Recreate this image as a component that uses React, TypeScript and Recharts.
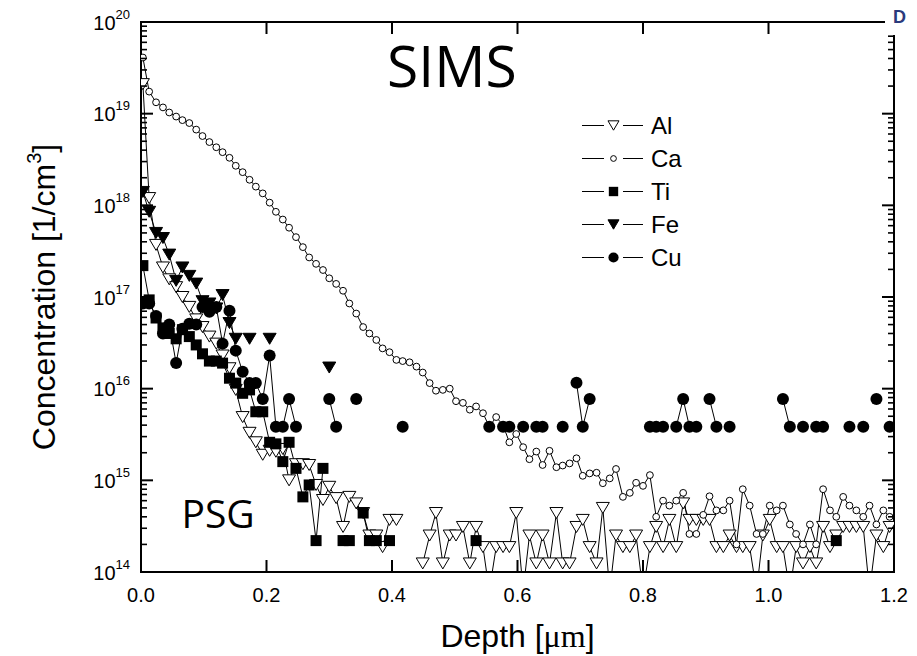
import React from 'react';
import { ComposedChart, Line, XAxis, YAxis, Legend } from 'recharts';

const W = 917;
const H = 656;
const FONT = '"Liberation Sans", Arial, Helvetica, sans-serif';
const _ = null;

// depth grid [µm]
const DEPTH = [
  0.003, 0.013, 0.024, 0.035, 0.045, 0.056, 0.066, 0.077, 0.088, 0.098,
  0.109, 0.120, 0.130, 0.141, 0.151, 0.162, 0.173, 0.183, 0.194, 0.205,
  0.215, 0.226, 0.236, 0.247, 0.258, 0.268, 0.279, 0.290, 0.300, 0.311,
  0.322, 0.332, 0.343, 0.354, 0.364, 0.375, 0.385, 0.396, 0.407, 0.417,
  0.428, 0.439, 0.449, 0.460, 0.470, 0.481, 0.492, 0.502, 0.513, 0.524,
  0.534, 0.545, 0.555, 0.566, 0.577, 0.587, 0.598, 0.609, 0.619, 0.630,
  0.640, 0.651, 0.662, 0.672, 0.683, 0.694, 0.704, 0.715, 0.726, 0.736,
  0.747, 0.757, 0.768, 0.779, 0.789, 0.800, 0.811, 0.821, 0.832, 0.842,
  0.853, 0.864, 0.874, 0.885, 0.896, 0.906, 0.917, 0.928, 0.938, 0.949,
  0.959, 0.970, 0.981, 0.991, 1.002, 1.013, 1.023, 1.034, 1.044, 1.055,
  1.066, 1.076, 1.087, 1.098, 1.108, 1.119, 1.129, 1.140, 1.151, 1.161,
  1.172, 1.183, 1.193,
];

const AL = [
  2.1e19, 1.2e18, 3.7e17, 2.1e17, 1.56e17, 1.28e17, 1.0e17, 7.8e16, 5.7e16, 4.7e16,
  3.7e16, 3.1e16, 2.3e16, 1.67e16, 9.7e15, 4.9e15, 3.3e15, 2.6e15, 1.9e15, 2.1e15,
  2.05e15, 2.2e15, 1.0e15, 1.5e15, 1.5e15, 1.47e15, 8.9e14, 6.1e14, 8.5e14, 6.4e14,
  3.1e14, 6.6e14, 5.6e14, 4.4e14, 2.5e14, 2.5e14, 1.87e14, 3.7e14, 3.7e14, _,
  _, _, 1.24e14, 2.5e14, 4.4e14, 1.24e14, 2.5e14, 2.5e14, 3.1e14, 1.24e14,
  3.1e14, 1.87e14, 6.2e13, 1.87e14, 1.87e14, 1.87e14, 4.4e14, 6.2e13, 2.5e14, 1.24e14,
  2.5e14, 1.24e14, 4.4e14, 1.24e14, 1.24e14, 3.1e14, 3.7e14, 1.87e14, 1.24e14, 5.0e14,
  6.2e13, 2.5e14, 1.87e14, 1.87e14, 2.5e14, 6.2e13, 1.87e14, 3.1e14, 1.87e14, 3.7e14,
  1.87e14, 5.6e14, 3.7e14, 3.7e14, 3.7e14, 3.7e14, 1.87e14, 1.87e14, 2.5e14, 1.87e14,
  1.87e14, 1.87e14, 6.2e13, 2.5e14, 3.7e14, 1.87e14, 1.87e14, 6.2e13, 1.87e14, 1.24e14,
  1.87e14, 1.24e14, 3.1e14, 1.87e14, 2.5e14, 3.1e14, 3.1e14, 3.1e14, 3.1e14, 6.2e13,
  2.5e14, 1.87e14, 3.1e14,
];

const CA = [
  4.1e19, 1.74e19, 1.33e19, 1.17e19, 1.03e19, 9.3e18, 8.5e18, 7.9e18, 6.7e18, 5.7e18,
  4.9e18, 4.3e18, 3.8e18, 3.3e18, 2.7e18, 2.3e18, 1.9e18, 1.6e18, 1.35e18, 1.07e18,
  8.5e17, 7.0e17, 5.7e17, 4.5e17, 3.5e17, 2.7e17, 2.3e17, 1.97e17, 1.6e17, 1.39e17,
  1.17e17, 8.5e16, 6.6e16, 4.7e16, 4.0e16, 3.4e16, 2.75e16, 2.5e16, 2.06e16, 2.0e16,
  1.94e16, 1.74e16, 1.5e16, 1.15e16, 9.5e15, 9.7e15, 1.0e16, 7.3e15, 7.0e15, 5.9e15,
  6.4e15, 5.4e15, 3.85e15, 4.9e15, 4.0e15, 2.6e15, 3.2e15, 2.3e15, 1.7e15, 2.06e15,
  1.47e15, 2.1e15, 1.39e15, 1.45e15, 1.53e15, 1.74e15, 1.12e15, 1.19e15, 1.21e15, 9.3e14,
  1.05e15, 1.33e15, 6.6e14, 7.3e14, 9.4e14, 8.7e14, 1.14e15, 4.0e14, 6.0e14, 5.3e14,
  6.0e14, 7.3e14, 2.6e14, 2.6e14, 4.2e14, 6.7e14, 4.7e14, 4.7e14, 6.0e14, 2.0e14,
  8.0e14, 5.3e14, 2.6e14, 2.6e14, 5.3e14, 4.7e14, 5.3e14, 3.3e14, 2.6e14, 2.0e14,
  3.3e14, 2.0e14, 8.0e14, 4.7e14, 4.0e14, 6.6e14, 5.3e14, 4.7e14, 4.0e14, 5.3e14,
  3.3e14, 4.7e14, 4.0e14,
];

const TI = [
  2.2e17, 9.3e16, 5.9e16, 4.6e16, 4.0e16, 3.5e16, 4.4e16, 3.7e16, 3.0e16, 2.4e16,
  2.0e16, 2.0e16, 1.9e16, 1.3e16, 1.15e16, 8.9e15, 9.7e15, 5.6e15, 5.6e15, 2.6e15,
  2.5e15, 1.6e15, 2.6e15, 1.35e15, 6.6e14, 8.9e14, 2.2e14, 1.35e15, _, _,
  2.2e14, 2.2e14, _, 4.4e14, 2.2e14, 2.2e14, _, 2.2e14, _, _,
  _, _, _, _, _, _, _, _, _, _,
  2.2e14, _, _, _, _, _, _, _, _, _,
  _, _, _, _, _, _, _, _, _, _,
  _, _, _, _, _, _, _, _, _, _,
  _, _, _, _, _, _, _, _, _, _,
  _, _, _, _, _, _, _, _, _, _,
  _, _, _, _, 2.2e14, _, _, _, _, _,
  _, _, _,
];

const FE = [
  1.4e18, 8.5e17, 5.0e17, 4.4e17, 2.9e17, 1.5e17, 2.1e17, 1.7e17, 1.4e17, 9.0e16,
  8.5e16, 7.5e16, 1.05e17, 5.2e16, 3.5e16, _, 3.5e16, _, _, 3.5e16,
  _, _, _, _, _, _, _, _, 1.7e16, _,
  _, _, _, _, _, _, _, _, _, _,
  _, _, _, _, _, _, _, _, _, _,
  _, _, _, _, _, _, _, _, _, _,
  _, _, _, _, _, _, _, _, _, _,
  _, _, _, _, _, _, _, _, _, _,
  _, _, _, _, _, _, _, _, _, _,
  _, _, _, _, _, _, _, _, _, _,
  _, _, _, _, _, _, _, _, _, _,
  _, _, _,
];

const CU = [
  8.5e16, 8.5e16, 6.2e16, 4.0e16, 5.0e16, 1.9e16, 4.5e16, 5.1e16, 5.0e16, 7.8e16,
  6.9e16, 7.8e16, 3.1e16, 7.1e16, 2.6e16, 1.53e16, 1.15e16, 1.15e16, 7.7e15, 2.3e16,
  3.85e15, 3.85e15, 7.7e15, 3.85e15, _, _, _, _, 7.7e15, 3.85e15,
  _, _, 7.7e15, _, _, _, _, _, _, 3.85e15,
  _, _, _, _, _, _, _, _, _, _,
  _, _, 3.85e15, _, 3.85e15, 3.85e15, _, 3.85e15, _, 3.85e15,
  3.85e15, _, _, 3.85e15, _, 1.16e16, 3.85e15, 7.7e15, _, _,
  _, _, _, _, _, _, 3.85e15, 3.85e15, 3.85e15, _,
  3.85e15, 7.7e15, 3.85e15, 3.85e15, _, 7.7e15, 3.85e15, _, 3.85e15, _,
  _, _, _, _, _, _, 7.7e15, 3.85e15, _, 3.85e15,
  _, 3.85e15, 3.85e15, _, _, _, 3.85e15, _, 3.85e15, _,
  7.7e15, _, 3.85e15,
];

const SERIES_NAMES = ['Al', 'Ca', 'Ti', 'Fe', 'Cu'];
const SERIES_VALUES = [AL, CA, TI, FE, CU];
const SERIES_KINDS = ['triOpen', 'circOpen', 'square', 'triFill', 'circFill'];

const X_TICKS = [0, 0.2, 0.4, 0.6, 0.8, 1.0, 1.2];
const X_TICK_LABELS = ['0.0', '0.2', '0.4', '0.6', '0.8', '1.0', '1.2'];
const Y_DECADES = [14, 15, 16, 17, 18, 19, 20];
const Y_MINOR_MULTS = [2, 3, 4, 5, 6, 7, 8, 9];

const Y_MAJOR = Y_DECADES.map((e) => Math.pow(10, e));
const Y_MINOR = Y_DECADES.slice(0, -1).flatMap((e) => Y_MINOR_MULTS.map((m) => m * Math.pow(10, e)));
const Y_TICKS = [...Y_MAJOR, ...Y_MINOR].sort((a, b) => a - b);

const data = DEPTH.map((d, i) => {
  const row: any = { depth: d };
  SERIES_NAMES.forEach((n, k) => {
    const v = SERIES_VALUES[k][i];
    row[n] = v === undefined ? null : v;
  });
  return row;
});

function renderMarker(kind: string, cx: number, cy: number, s = 1, key?: any) {
  switch (kind) {
    case 'triOpen':
      return (
        <path key={key} d={`M${cx - 6.5 * s},${cy - 5.5 * s}L${cx + 6.5 * s},${cy - 5.5 * s}L${cx},${cy + 5.5 * s}Z`}
          fill="#fff" stroke="#000" strokeWidth={1} />
      );
    case 'triFill':
      return (
        <path key={key} d={`M${cx - 6.5 * s},${cy - 5.5 * s}L${cx + 6.5 * s},${cy - 5.5 * s}L${cx},${cy + 5.5 * s}Z`}
          fill="#000" stroke="#000" strokeWidth={1} />
      );
    case 'circOpen':
      return <circle key={key} cx={cx} cy={cy} r={3.4 * s} fill="#fff" stroke="#000" strokeWidth={1} />;
    case 'square':
      return <rect key={key} x={cx - 5.5 * s} y={cy - 5.5 * s} width={11 * s} height={11 * s} fill="#000" />;
    case 'circFill':
    default:
      return <circle key={key} cx={cx} cy={cy} r={6 * s} fill="#000" />;
  }
}

const makeDot = (kind: string, name: string) => (p: any) => {
  const k = `${name}-dot-${p.index}`;
  const raw = p.payload ? p.payload[name] : null;
  if (typeof raw !== 'number' || p.cx == null || p.cy == null || !isFinite(p.cx) || !isFinite(p.cy)) {
    return <g key={k} />;
  }
  return <g key={k}>{renderMarker(kind, p.cx, p.cy, 1)}</g>;
};

const isMajorY = (v: number) => {
  const l = Math.log10(v);
  return Math.abs(l - Math.round(l)) < 1e-9;
};

const LeftTick = (p: any) => {
  const v = p.payload.value;
  const major = isMajorY(v);
  const exp = Math.round(Math.log10(v));
  return (
    <g>
      <line x1={p.x} x2={p.x + (major ? 12 : 6)} y1={p.y} y2={p.y} stroke="#000" strokeWidth={major ? 2 : 1.6} />
      {major && (
        <text x={p.x - 11} y={p.y + 7.5} textAnchor="end" fontFamily={FONT} fill="#000">
          <tspan fontSize={20}>10</tspan>
          <tspan fontSize={13} dy={-11}>{exp}</tspan>
        </text>
      )}
    </g>
  );
};

const RightTick = (p: any) => {
  const v = p.payload.value;
  const major = isMajorY(v);
  return <line x1={p.x} x2={p.x - (major ? 12 : 6)} y1={p.y} y2={p.y} stroke="#000" strokeWidth={major ? 2 : 1.6} />;
};

const BottomTick = (p: any) => {
  const idx = X_TICKS.findIndex((t) => Math.abs(t - p.payload.value) < 1e-9);
  return (
    <g>
      <line x1={p.x} x2={p.x} y1={p.y} y2={p.y - 12} stroke="#000" strokeWidth={2} />
      <text x={p.x} y={p.y + 30} textAnchor="middle" fontFamily={FONT} fontSize={20} fill="#000">
        {X_TICK_LABELS[idx]}
      </text>
    </g>
  );
};

const TopTick = (p: any) => (
  <line x1={p.x} x2={p.x} y1={p.y} y2={p.y + 12} stroke="#000" strokeWidth={2} />
);

const LegendContent = () => (
  <div style={{ fontFamily: FONT }}>
    {SERIES_NAMES.map((name, k) => (
      <div key={name} style={{ display: 'flex', alignItems: 'center', height: 33 }}>
        <svg width={70} height={33} style={{ display: 'block' }}>
          <line x1={4} x2={26} y1={16.5} y2={16.5} stroke="#000" strokeWidth={1} />
          <line x1={45} x2={65} y1={16.5} y2={16.5} stroke="#000" strokeWidth={1} />
          {renderMarker(SERIES_KINDS[k], 35.5, 16.5, 0.85)}
        </svg>
        <span style={{ fontSize: 24, marginLeft: 3, color: '#000', lineHeight: '33px' }}>{name}</span>
      </div>
    ))}
  </div>
);

const axisLineStyle = { stroke: '#000', strokeWidth: 2, strokeLinecap: 'square' as const };

export default function App() {
  return (
    <div style={{ position: 'absolute', left: 0, top: 0, width: W, height: H, background: '#fff' }}>
      <ComposedChart width={W} height={H} data={data} margin={{ top: 0, right: 0, bottom: 0, left: 0 }}>
        <XAxis xAxisId="x" dataKey="depth" type="number" domain={[0, 1.2]} allowDataOverflow ticks={X_TICKS}
          interval={0} height={84} tickSize={0} tickMargin={0} axisLine={axisLineStyle} tickLine={false}
          tick={(p: any) => <BottomTick {...p} />} />
        <XAxis xAxisId="top" dataKey="depth" orientation="top" type="number" domain={[0, 1.2]} allowDataOverflow
          ticks={X_TICKS} interval={0} height={22} tickSize={0} tickMargin={0} axisLine={axisLineStyle}
          tickLine={false} tick={(p: any) => <TopTick {...p} />} />
        <YAxis yAxisId="y" scale="log" type="number" domain={[1e14, 1e20]} allowDataOverflow ticks={Y_TICKS}
          interval={0} width={141} tickSize={0} tickMargin={0} axisLine={axisLineStyle} tickLine={false}
          tick={(p: any) => <LeftTick {...p} />} />
        <YAxis yAxisId="right" orientation="right" scale="log" type="number" domain={[1e14, 1e20]} allowDataOverflow
          ticks={Y_TICKS} interval={0} width={23} tickSize={0} tickMargin={0} axisLine={axisLineStyle} tickLine={false}
          tick={(p: any) => <RightTick {...p} />} />
        {SERIES_NAMES.map((n, k) => (
          <Line key={n} xAxisId="x" yAxisId="y" dataKey={n} name={n} type="linear" stroke="#000" strokeWidth={1}
            isAnimationActive={false} connectNulls={false} dot={makeDot(SERIES_KINDS[k], n)} activeDot={false}
            legendType="line" />
        ))}
        <Legend layout="vertical" align="center" verticalAlign="middle" content={LegendContent}
          wrapperStyle={{ left: 578, top: 108.5, width: 140, height: 165 }} />
      </ComposedChart>
      <svg width={W} height={H} style={{ position: 'absolute', left: 0, top: 0, pointerEvents: 'none' }}>
        <text x={387} y={87} fontFamily='"Open Sans", "Noto Sans", sans-serif' fontSize={57} fill="#000">SIMS</text>
        <text x={181.5} y={528} fontFamily='"Open Sans", "Noto Sans", sans-serif' fontSize={39} fill="#000">PSG</text>
        <text x={517.5} y={647} textAnchor="middle" fontFamily={FONT} fontSize={32} fill="#000">
          Depth [<tspan fontFamily='"Liberation Serif", "Times New Roman", serif'>μm</tspan>]
        </text>
        <text transform="translate(55,297) rotate(-90)" textAnchor="middle" fontFamily={FONT} fontSize={32} fill="#000">
          Concentration [1/cm<tspan fontSize={20} dy={-14}>3</tspan><tspan dy={14}>]</tspan>
        </text>
        <rect x={885} y={0} width={32} height={35} fill="#fff" />
        <text x={893} y={23} fontFamily={FONT} fontWeight="bold" fontSize={18} fill="#2a3a7c">D</text>
      </svg>
    </div>
  );
}
